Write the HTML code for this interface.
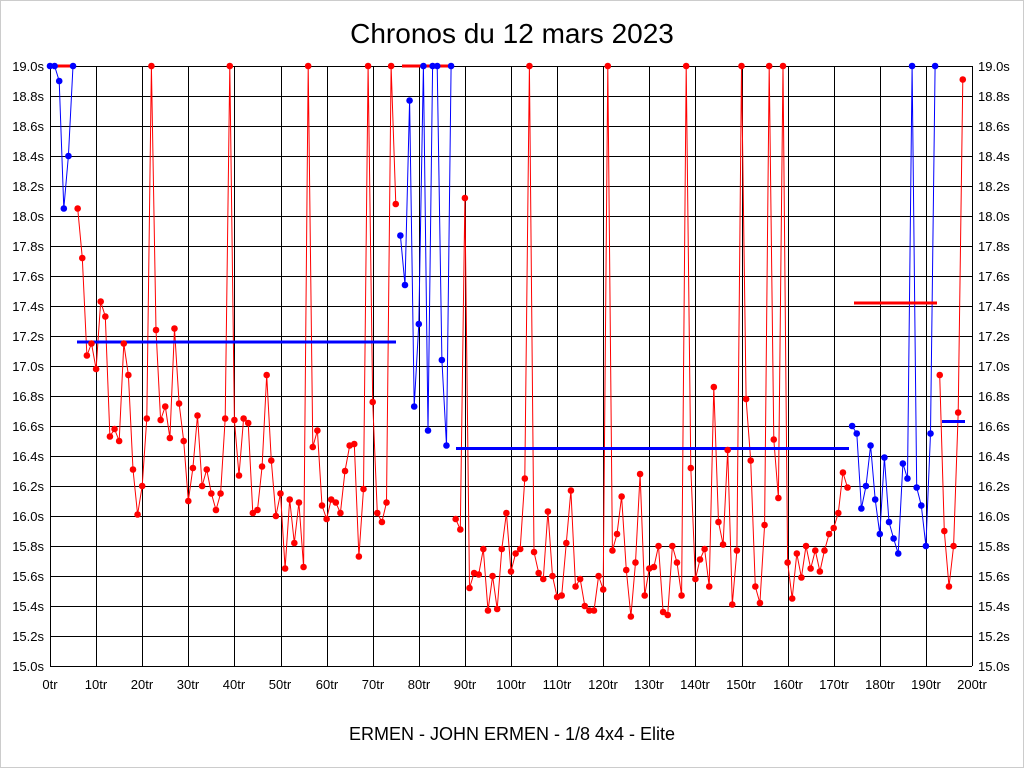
<!DOCTYPE html>
<html><head><meta charset="utf-8"><style>
html,body{margin:0;padding:0;background:#fff;}
svg{display:block;font-family:"Liberation Sans",Arial,sans-serif;}
</style></head><body>
<svg id="s" width="1024" height="768" viewBox="0 0 1024 768" xmlns="http://www.w3.org/2000/svg">
<rect x="0.5" y="0.5" width="1023" height="767" fill="#fff" stroke="#ccc"/>
<text x="512" y="43" font-size="28" text-anchor="middle">Chronos du 12 mars 2023</text>
<text x="512" y="740" font-size="18" text-anchor="middle">ERMEN - JOHN ERMEN - 1/8 4x4 - Elite</text>
<g id="grid" stroke="#000" stroke-width="1"></g>
<g font-size="13" text-anchor="end" id="yl">
<text x="44" y="71">19.0s</text><text x="44" y="101">18.8s</text><text x="44" y="131">18.6s</text><text x="44" y="161">18.4s</text><text x="44" y="191">18.2s</text><text x="44" y="221">18.0s</text><text x="44" y="251">17.8s</text><text x="44" y="281">17.6s</text><text x="44" y="311">17.4s</text><text x="44" y="341">17.2s</text><text x="44" y="371">17.0s</text><text x="44" y="401">16.8s</text><text x="44" y="431">16.6s</text><text x="44" y="461">16.4s</text><text x="44" y="491">16.2s</text><text x="44" y="521">16.0s</text><text x="44" y="551">15.8s</text><text x="44" y="581">15.6s</text><text x="44" y="611">15.4s</text><text x="44" y="641">15.2s</text><text x="44" y="671">15.0s</text>
</g>
<g font-size="13" text-anchor="start">
<text x="978" y="71">19.0s</text><text x="978" y="101">18.8s</text><text x="978" y="131">18.6s</text><text x="978" y="161">18.4s</text><text x="978" y="191">18.2s</text><text x="978" y="221">18.0s</text><text x="978" y="251">17.8s</text><text x="978" y="281">17.6s</text><text x="978" y="311">17.4s</text><text x="978" y="341">17.2s</text><text x="978" y="371">17.0s</text><text x="978" y="401">16.8s</text><text x="978" y="431">16.6s</text><text x="978" y="461">16.4s</text><text x="978" y="491">16.2s</text><text x="978" y="521">16.0s</text><text x="978" y="551">15.8s</text><text x="978" y="581">15.6s</text><text x="978" y="611">15.4s</text><text x="978" y="641">15.2s</text><text x="978" y="671">15.0s</text>
</g>
<g font-size="13" text-anchor="middle">
<text x="50" y="689">0tr</text><text x="96" y="689">10tr</text><text x="142" y="689">20tr</text><text x="188" y="689">30tr</text><text x="234" y="689">40tr</text><text x="280" y="689">50tr</text><text x="327" y="689">60tr</text><text x="373" y="689">70tr</text><text x="419" y="689">80tr</text><text x="465" y="689">90tr</text><text x="511" y="689">100tr</text><text x="557" y="689">110tr</text><text x="603" y="689">120tr</text><text x="649" y="689">130tr</text><text x="695" y="689">140tr</text><text x="741" y="689">150tr</text><text x="788" y="689">160tr</text><text x="834" y="689">170tr</text><text x="880" y="689">180tr</text><text x="926" y="689">190tr</text><text x="972" y="689">200tr</text>
</g>
<g id="data"></g>
</svg>
<script>
var NS="http://www.w3.org/2000/svg";
function X(i){return 50+i*4.61;}
function Y(v){return 66+(19-v)*150;}
function el(p,t,a){var e=document.createElementNS(NS,t);for(var k in a)e.setAttribute(k,a[k]);p.appendChild(e);return e;}
var g=document.getElementById('grid');
for(var k=0;k<=20;k++){var y=66+k*30;el(g,'line',{x1:50,x2:972,y1:y+0.5,y2:y+0.5});var x=Math.round(50+k*46.1)+0.5;el(g,'line',{x1:x,x2:x,y1:66,y2:666});}
var v=[19,19,18.9,18.05,18.4,19,18.05,17.72,17.07,17.15,16.98,17.43,17.33,16.53,16.58,16.5,17.15,16.94,16.31,16.01,16.2,16.65,19,17.24,16.64,16.73,16.52,17.25,16.75,16.5,16.1,16.32,16.67,16.2,16.31,16.15,16.04,16.15,16.65,19,16.64,16.27,16.65,16.62,16.02,16.04,16.33,16.94,16.37,16.0,16.15,15.65,16.11,15.82,16.09,15.66,19,16.46,16.57,16.07,15.98,16.11,16.09,16.02,16.3,16.47,16.48,15.73,16.18,19,16.76,16.02,15.96,16.09,19,18.08,
17.87,17.54,18.77,16.73,17.28,19,16.57,19,19,17.04,16.47,19,
15.98,15.91,18.12,15.52,15.62,15.61,15.78,15.37,15.6,15.38,15.78,16.02,15.63,15.75,15.78,16.25,19,15.76,15.62,15.58,16.03,15.6,15.46,15.47,15.82,16.17,15.53,15.58,15.4,15.37,15.37,15.6,15.51,19,15.77,15.88,16.13,15.64,15.33,15.69,16.28,15.47,15.65,15.66,15.8,15.36,15.34,15.8,15.69,15.47,19,16.32,15.58,15.71,15.78,15.53,16.86,15.96,15.81,16.44,15.41,15.77,19,16.78,16.37,15.53,15.42,15.94,19,16.51,16.12,19,15.69,15.45,15.75,15.59,15.8,15.65,15.77,15.63,15.77,15.88,15.92,16.02,16.29,16.19,
16.6,16.55,16.05,16.2,16.47,16.11,15.88,16.39,15.96,15.85,15.75,16.35,16.25,19,16.19,16.07,15.8,16.55,19,
16.94,15.9,15.53,15.8,16.69,18.91];
function col(i){if(i<=5)return'#0000ff';if(i<=75)return'#ff0000';if(i<=87)return'#0000ff';if(i<=173)return'#ff0000';if(i<=192)return'#0000ff';return'#ff0000';}
var d=document.getElementById('data');
var segs=[[0,5],[6,75],[76,87],[88,173],[174,192],[193,198]];
segs.forEach(function(s){var pts=[];for(var i=s[0];i<=s[1];i++)pts.push(X(i).toFixed(1)+','+Y(v[i]).toFixed(1));el(d,'polyline',{points:pts.join(' '),fill:'none',stroke:col(s[0]),'stroke-width':1});});
function hl(x1,x2,val,c){el(d,'line',{x1:x1,x2:x2,y1:Y(val),y2:Y(val),stroke:c,'stroke-width':3});}
hl(54,72,19,'#ff0000');hl(77,396,17.16,'#0000ff');hl(402,451,19,'#ff0000');hl(456,849,16.45,'#0000ff');hl(854,937,17.42,'#ff0000');hl(942,965,16.63,'#0000ff');
for(var i=0;i<v.length;i++)el(d,'circle',{cx:X(i),cy:Y(v[i]),r:3.3,fill:col(i)});
</script>
</body></html>
